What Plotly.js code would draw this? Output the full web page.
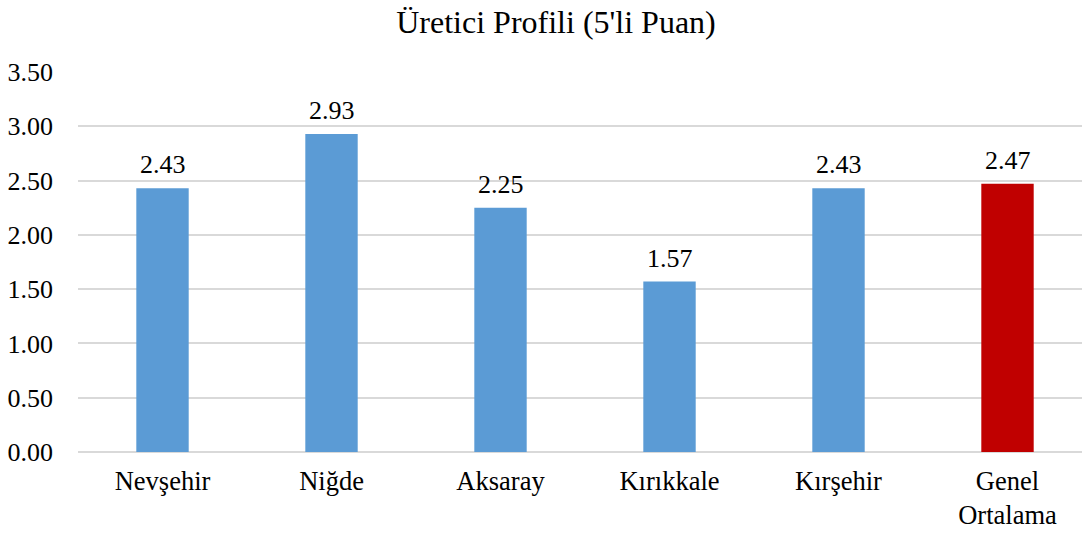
<!DOCTYPE html>
<html>
<head>
<meta charset="utf-8">
<script src="https://cdn.plot.ly/plotly-3.0.1.min.js"></script>
<style>
html, body { margin: 0; padding: 0; overflow: hidden; background: #fff; }
#chart { width: 1092px; height: 534px; }
</style>
</head>
<body>
<div id="chart"></div>
<script>
const categories = ["Nevşehir", "Niğde", "Aksaray", "Kırıkkale", "Kırşehir", "Genel<br>Ortalama"];
const values = [2.43, 2.93, 2.25, 1.57, 2.43, 2.47];
const barColors = ["#5B9BD5", "#5B9BD5", "#5B9BD5", "#5B9BD5", "#5B9BD5", "#C00000"];
const tickValues = [0, 0.5, 1, 1.5, 2, 2.5, 3, 3.5];
const tickLabels = ["0.00", "0.50", "1.00", "1.50", "2.00", "2.50", "3.00", "3.50"];
const chartTitle = "Üretici Profili (5'li Puan)";

const font = "Times New Roman, Liberation Serif, Tinos, DejaVu Serif, serif";

const trace = {
  type: "bar",
  x: categories,
  y: values,
  marker: { color: barColors },
  width: 0.31,
  hoverinfo: "x+y"
};

const annotations = categories.map((c, i) => ({
  x: c, y: values[i], xref: "x", yref: "y",
  text: values[i].toFixed(2),
  showarrow: false, yanchor: "bottom", yshift: 7,
  font: { family: font, size: 26, color: "#000" }
}));

const layout = {
  width: 1092, height: 534,
  margin: { l: 78, r: 0, t: 72, b: 82 },
  paper_bgcolor: "#fff", plot_bgcolor: "#fff",
  title: {
    text: chartTitle,
    font: { family: font, size: 32, color: "#000" },
    x: 556 / 1092, xanchor: "center", xref: "container",
    y: 1 - 22 / 534, yanchor: "middle", yref: "container"
  },
  font: { family: font, size: 26, color: "#000" },
  showlegend: false,
  bargap: 0.69,
  xaxis: {
    type: "category",
    showgrid: false, zeroline: false, showline: false,
    ticks: "", ticklabelstandoff: 10,
    tickfont: { family: font, size: 26.5, color: "#000" }
  },
  yaxis: {
    range: [0, 3.5],
    tickvals: tickValues, ticktext: tickLabels,
    showgrid: true, gridcolor: "#D9D9D9", gridwidth: 1.5,
    zeroline: true, zerolinecolor: "#D9D9D9", zerolinewidth: 1.5,
    showline: false, ticks: "", ticklabelstandoff: 24,
    tickfont: { family: font, size: 26, color: "#000" }
  },
  annotations: annotations
};

Plotly.newPlot("chart", [trace], layout, { displayModeBar: false, responsive: false });
</script>
</body>
</html>
